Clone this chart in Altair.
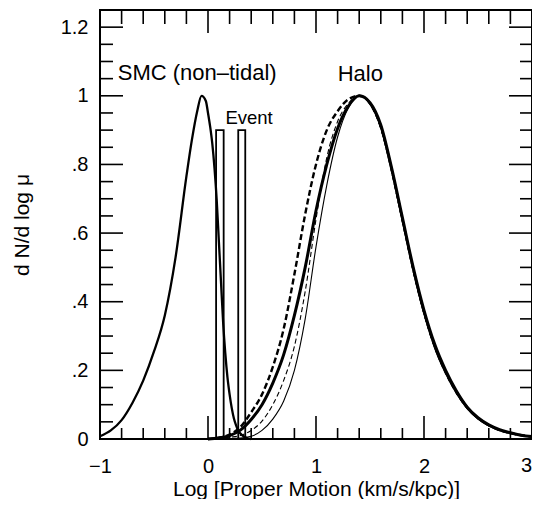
import altair as alt
import pandas as pd

# ---------------- data ----------------
SMC_X = [-1.0, -0.9, -0.8, -0.7, -0.6, -0.5, -0.4, -0.3, -0.2, -0.15, -0.1, -0.06,
         -0.02, 0.0, 0.02, 0.04, 0.06, 0.08, 0.10, 0.12, 0.14, 0.16, 0.18, 0.20,
         0.22, 0.24, 0.26, 0.28, 0.32, 0.36, 0.40]
SMC_Y = [0.008, 0.025, 0.055, 0.105, 0.17, 0.255, 0.36, 0.53, 0.765, 0.87, 0.955, 1.0,
         0.985, 0.95, 0.91, 0.86, 0.79, 0.70, 0.58, 0.46, 0.34, 0.25, 0.18, 0.13,
         0.09, 0.06, 0.04, 0.025, 0.01, 0.003, 0.0]

HALO_X = [0.0, 0.1, 0.2, 0.3, 0.4, 0.5, 0.6, 0.7, 0.8, 0.9, 1.0, 1.1, 1.2, 1.3, 1.4,
          1.5, 1.6, 1.7, 1.8, 1.9, 2.0, 2.1, 2.2, 2.3, 2.4, 2.5, 2.6, 2.7, 2.8, 2.9, 3.0]
HALO_THICK_SOLID = [0.0, 0.003, 0.010, 0.026, 0.057, 0.10, 0.163, 0.245, 0.36, 0.50,
                    0.665, 0.80, 0.905, 0.97, 1.0, 0.98, 0.915, 0.79, 0.645, 0.50,
                    0.375, 0.275, 0.20, 0.14, 0.093, 0.062, 0.041, 0.027, 0.018, 0.011, 0.007]
HALO_THICK_DASH = [0.0, 0.004, 0.013, 0.035, 0.078, 0.13, 0.21, 0.32, 0.48, 0.655,
                   0.80, 0.90, 0.955, 0.99, 1.0, 0.978, 0.91, 0.785, 0.64, 0.495,
                   0.37, 0.27, 0.197, 0.138, 0.092, 0.061, 0.040, 0.026, 0.017, 0.011, 0.007]
HALO_THIN_DASH = [0.0, 0.001, 0.005, 0.010, 0.025, 0.052, 0.10, 0.17, 0.27, 0.43,
                  0.64, 0.82, 0.925, 0.978, 1.0, 0.975, 0.905, 0.78, 0.635, 0.49,
                  0.365, 0.265, 0.19, 0.133, 0.089, 0.059, 0.039, 0.025, 0.016, 0.010, 0.006]
HALO_THIN_SOLID = [0.0, 0.0, 0.001, 0.003, 0.008, 0.025, 0.058, 0.11, 0.20, 0.35,
                   0.56, 0.74, 0.88, 0.965, 1.0, 0.975, 0.905, 0.78, 0.632, 0.488,
                   0.363, 0.263, 0.19, 0.132, 0.088, 0.058, 0.038, 0.025, 0.016, 0.010, 0.006]

EVENT_LO = [0.075, 0.28]
EVENT_HI = [0.145, 0.345]
EVENT_TOP = [0.9, 0.9]

X_LABELED = [-1, 0, 1, 2]
X_END_LABEL = [3]
X_MAJOR = [-1, 0, 1, 2, 3]
X_MINOR = [-0.8, -0.6, -0.4, -0.2, 0.2, 0.4, 0.6, 0.8, 1.2, 1.4, 1.6,
           1.8, 2.2, 2.4, 2.6, 2.8]
Y_MAJOR = [0, 0.2, 0.4, 0.6, 0.8, 1.0, 1.2]
Y_MINOR = [0.05, 0.1, 0.15, 0.25, 0.3, 0.35, 0.45, 0.5, 0.55, 0.65,
           0.7, 0.75, 0.85, 0.9, 0.95, 1.05, 1.1, 1.15]

BIG_LABELS = ["SMC (non\u2013tidal)", "Halo"]
BIG_LABEL_X = [-0.1, 1.41]
BIG_LABEL_Y = [1.066, 1.064]
SMALL_LABELS = ["Event"]
SMALL_LABEL_X = [0.38]
SMALL_LABEL_Y = [0.935]

X_TITLE = "Log [Proper Motion (km/s/kpc)]"
Y_TITLE = "d N/d log \u03bc"

FONT = "Liberation Sans"
W, H = 432, 429
X_DOM = [-1, 3]
Y_DOM = [0, 1.25]
MAJOR, MINOR = 23, 12
TICK_W = 1.6

# ---------------- tables ----------------
smc = pd.DataFrame({"x": SMC_X, "y": SMC_Y})
h_ts = pd.DataFrame({"x": HALO_X, "y": HALO_THICK_SOLID})
h_td = pd.DataFrame({"x": HALO_X, "y": HALO_THICK_DASH})
h_nd = pd.DataFrame({"x": HALO_X, "y": HALO_THIN_DASH})
h_ns = pd.DataFrame({"x": HALO_X, "y": HALO_THIN_SOLID})
ev = pd.DataFrame({"x": EVENT_LO, "x2": EVENT_HI, "y2": EVENT_TOP,
                   "y": [0.0] * len(EVENT_LO)})
big = pd.DataFrame({"t": BIG_LABELS, "x": BIG_LABEL_X, "y": BIG_LABEL_Y})
small = pd.DataFrame({"t": SMALL_LABELS, "x": SMALL_LABEL_X, "y": SMALL_LABEL_Y})
endlab = pd.DataFrame({"x": X_END_LABEL, "t": [str(v) for v in X_END_LABEL]})

# tick tables: pixel lengths expressed in data units, ticks drawn as thin rects
px_x = (X_DOM[1] - X_DOM[0]) / W
px_y = (Y_DOM[1] - Y_DOM[0]) / H


def xtick_rows(values, length, top):
    base = Y_DOM[1] if top else Y_DOM[0]
    end = base - length * px_y if top else base + length * px_y
    half = TICK_W / 2 * px_x
    return [{"x": v - half, "x2": v + half, "y": base, "y2": end} for v in values]


def ytick_rows(values, length, right):
    base = X_DOM[1] if right else X_DOM[0]
    end = base - length * px_x if right else base + length * px_x
    half = TICK_W / 2 * px_y
    return [{"x": base, "x2": end, "y": v - half, "y2": v + half} for v in values]


tick_df = pd.DataFrame(
    xtick_rows(X_MAJOR, MAJOR, False) + xtick_rows(X_MINOR, MINOR - 1, False)
    + xtick_rows(X_MAJOR, MAJOR, True) + xtick_rows(X_MINOR, MINOR + 2, True)
    + ytick_rows(Y_MAJOR, MAJOR, False) + ytick_rows(Y_MINOR, MINOR + 1, False)
    + ytick_rows(Y_MAJOR, MAJOR, True) + ytick_rows(Y_MINOR, MINOR, True)
)

xs = alt.Scale(domain=X_DOM, nice=False, zero=False)
ys = alt.Scale(domain=Y_DOM, nice=False, zero=False)

lab_kw = dict(labelFont=FONT, labelFontSize=20, labelColor="black",
              labelOverlap=False, titleFont=FONT, titleFontSize=21,
              titleColor="black", titleFontWeight="normal",
              ticks=False, domain=False, grid=False)

X_AXIS = alt.Axis(orient="bottom", values=X_LABELED, labelFlush=False, title=X_TITLE,
                  labelPadding=17, titlePadding=2, **lab_kw)
Y_AXIS = alt.Axis(orient="left", values=Y_MAJOR, labelPadding=12, titlePadding=28,
                  title=Y_TITLE,
                  labelExpr="datum.value == 0 ? '0' : datum.value == 1 ? '1' : replace(format(datum.value, '.1f'), /^0\\./, '.')",
                  **lab_kw)


def X(field="x"):
    return alt.X(f"{field}:Q", scale=xs, axis=X_AXIS, title=X_TITLE)


def Y(field="y"):
    return alt.Y(f"{field}:Q", scale=ys, axis=Y_AXIS, title=Y_TITLE)


line_kw = dict(color="black", interpolate="monotone")

smc_layer = alt.Chart(smc).mark_line(strokeWidth=2.3, **line_kw).encode(x=X(), y=Y())


def halo(df, width, dash=None):
    kw = dict(strokeWidth=width, **line_kw)
    if dash:
        kw["strokeDash"] = dash
    return alt.Chart(df).mark_line(**kw).encode(x=X(), y=Y())


ev_layer = alt.Chart(ev).mark_rect(fill="white", fillOpacity=0, stroke="black",
                                   strokeWidth=1.8).encode(
    x=X(), x2="x2:Q", y=Y(), y2="y2:Q")

tick_layer = alt.Chart(tick_df).mark_rect(color="black", fill="black").encode(
    x=X(), x2="x2:Q", y=Y(), y2="y2:Q")

big_layer = alt.Chart(big).mark_text(font=FONT, fontSize=22, color="black",
                                     align="center", baseline="middle").encode(
    x=X(), y=Y(), text="t:N")
small_layer = alt.Chart(small).mark_text(font=FONT, fontSize=18.5, color="black",
                                         align="center", baseline="middle").encode(
    x=X(), y=Y(), text="t:N")
# last x tick label sits at the right edge of the page: right-aligned
end_layer = alt.Chart(endlab).mark_text(font=FONT, fontSize=20, color="black",
                                        align="right", baseline="top", dy=17).encode(
    x=X(), y=alt.value(H), text="t:N")

chart = alt.layer(
    smc_layer, ev_layer,
    halo(h_nd, 1.1, [5, 3]), halo(h_ns, 1.1), halo(h_td, 2.4, [6, 3]), halo(h_ts, 3),
    tick_layer, big_layer, small_layer, end_layer,
).properties(
    width=W, height=H,
    autosize=alt.AutoSizeParams(type="none"),
    padding={"left": 92, "top": 2, "right": 0, "bottom": 60},
    background="white",
).configure_view(stroke="black", strokeWidth=2)

chart.save("out.html", embed_options={"renderer": "svg", "actions": False})
